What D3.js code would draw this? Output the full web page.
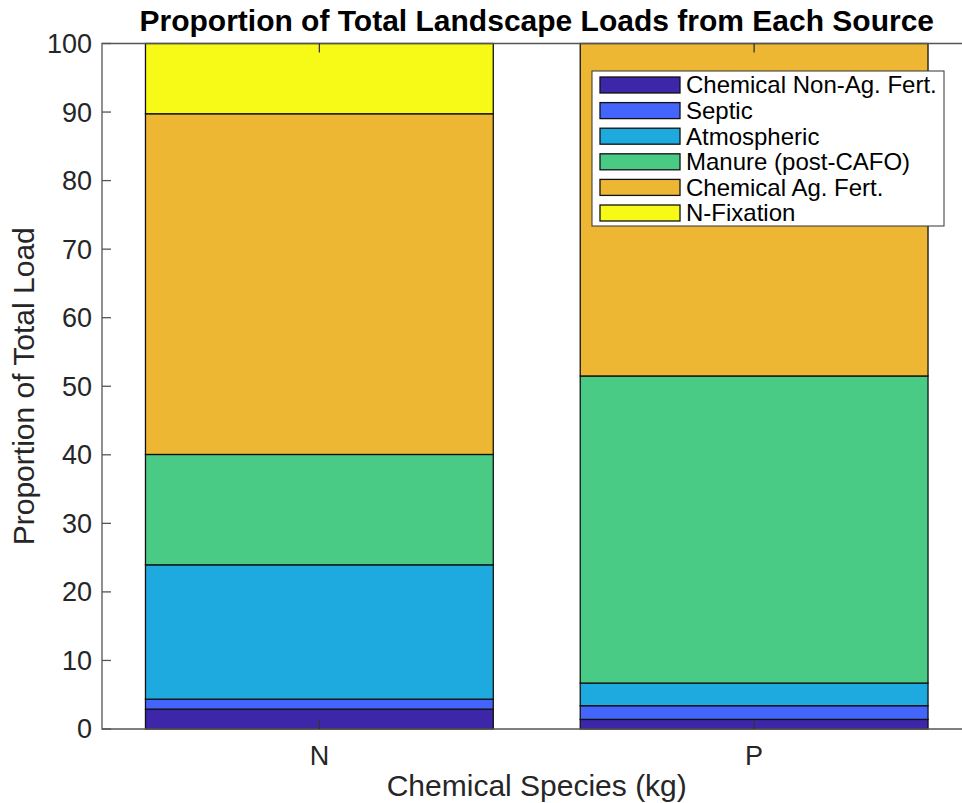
<!DOCTYPE html>
<html><head><meta charset="utf-8">
<script src="https://cdn.jsdelivr.net/npm/d3@7"></script>
<style>body{margin:0;background:#fff}svg{display:block}</style>
</head><body>
<svg id="c" width="962" height="803"></svg>
<script>
const categories = ["N", "P"];
const sources = ["Chemical Non-Ag. Fert.", "Septic", "Atmospheric", "Manure (post-CAFO)", "Chemical Ag. Fert.", "N-Fixation"];
const chemNonAg = [2.9, 1.4];
const septic = [1.45, 2.0];
const atmospheric = [19.6, 3.3];
const manure = [16.1, 44.8];
const chemAg = [49.7, 48.5];
const nFix = [10.25, 0];
const colors = ["#3e26a8", "#4365fc", "#1ea9df", "#4acb85", "#edb734", "#f7f917"];
const yTicks = [0,10,20,30,40,50,60,70,80,90,100];

const series = [chemNonAg, septic, atmospheric, manure, chemAg, nFix];
const rows = categories.map((c,i)=>{const o={cat:c}; sources.forEach((s,j)=>o[s]=series[j][i]); return o;});
const stacked = d3.stack().keys(sources)(rows);

const svg = d3.select("#c");
const L = 102, R = 971.5, T = 43.5, B = 729;
const x = d3.scaleLinear().domain([0.5, 2.5]).range([L, R]);
const y = d3.scaleLinear().domain([0, 100]).range([B, T]);
const font = "'Liberation Sans', Arial, sans-serif";
const axisCol = "#262626";

const g = svg.append("g");
stacked.forEach((layer, j) => {
  g.selectAll(null).data(layer).enter().append("rect")
    .attr("x", (d,i)=>x(i+1-0.4))
    .attr("width", x(1.4)-x(0.6))
    .attr("y", d=>y(d[1]))
    .attr("height", d=>y(d[0])-y(d[1]))
    .attr("fill", colors[j])
    .attr("stroke", d=> (d[1]-d[0])>0 ? "#111" : "none")
    .attr("stroke-width", 1.3);
});

// axes box
const ax = svg.append("g").attr("stroke", "#555").attr("stroke-width", 1.3).attr("fill","none");
ax.append("path").attr("d", `M${L},${T}H${R}V${B}H${L}Z`);
yTicks.forEach(t=>{
  ax.append("line").attr("x1",L).attr("x2",L+9).attr("y1",y(t)).attr("y2",y(t));
  ax.append("line").attr("x1",R).attr("x2",R-9).attr("y1",y(t)).attr("y2",y(t));
});
categories.forEach((c,i)=>{
  ax.append("line").attr("x1",x(i+1)).attr("x2",x(i+1)).attr("y1",B).attr("y2",B-9).attr("stroke","#333");
  ax.append("line").attr("x1",x(i+1)).attr("x2",x(i+1)).attr("y1",T).attr("y2",T+9).attr("stroke","#333");
});

// tick labels
svg.append("g").selectAll("text").data(yTicks).enter().append("text")
  .attr("x", L-10).attr("y", d=>y(d)).attr("dy","0.35em").attr("text-anchor","end")
  .attr("font-family",font).attr("font-size",27).attr("fill",axisCol).text(d=>d);
svg.append("g").selectAll("text").data(categories).enter().append("text")
  .attr("x", (d,i)=>x(i+1)).attr("y", B+36).attr("text-anchor","middle")
  .attr("font-family",font).attr("font-size",27).attr("fill",axisCol).text(d=>d);

// labels
svg.append("text").attr("x",(L+R)/2).attr("y",796).attr("text-anchor","middle")
  .attr("font-family",font).attr("font-size",30).attr("fill",axisCol).text("Chemical Species (kg)");
svg.append("text").attr("transform",`translate(34,${(T+B)/2}) rotate(-90)`).attr("text-anchor","middle")
  .attr("font-family",font).attr("font-size",30).attr("fill",axisCol).text("Proportion of Total Load");
svg.append("text").attr("x",(L+R)/2).attr("y",31).attr("text-anchor","middle")
  .attr("font-family",font).attr("font-size",30).attr("font-weight","bold").attr("fill","#000")
  .text("Proportion of Total Landscape Loads from Each Source");

// legend
const lg = svg.append("g");
lg.append("rect").attr("x",592).attr("y",71).attr("width",352).attr("height",155)
  .attr("fill","#fff").attr("stroke","#333").attr("stroke-width",1);
sources.forEach((s,j)=>{
  const cy = 85 + j*25.6;
  lg.append("rect").attr("x",600).attr("y",cy-8).attr("width",80).attr("height",16)
    .attr("fill",colors[j]).attr("stroke","#111").attr("stroke-width",1.3);
  lg.append("text").attr("x",686).attr("y",cy).attr("dy","0.35em")
    .attr("font-family",font).attr("font-size",24).attr("fill","#000").text(s);
});
</script>
</body></html>
